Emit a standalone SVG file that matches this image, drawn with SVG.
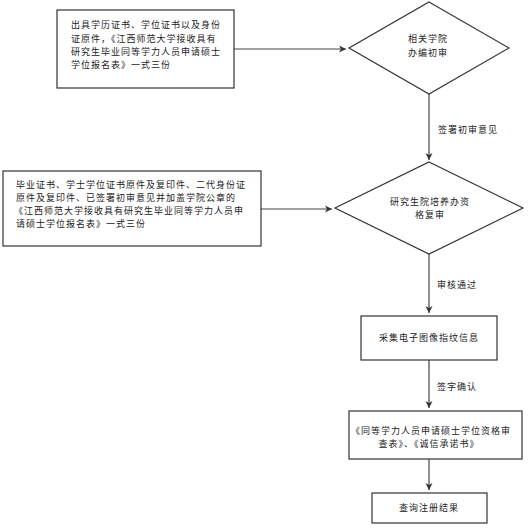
<svg xmlns="http://www.w3.org/2000/svg" width="528" height="530" viewBox="0 0 528 530">
<defs>
<marker id="ah" markerWidth="8" markerHeight="8" refX="7" refY="4" orient="auto" markerUnits="userSpaceOnUse">
<path d="M0,0.5 L7,4 L0,7.5 L2,4 Z" fill="#333"/>
</marker>
</defs>
<style>
.box{fill:#fff;stroke:#333;stroke-width:1.2}
.t{font-family:"Noto Sans CJK SC","Noto Sans",sans-serif;font-size:9px;letter-spacing:1px;fill:#222}
.c{text-anchor:middle}
.ln{stroke:#444;stroke-width:1.2;fill:none}
</style>
<rect width="528" height="530" fill="#fff"/>
<g id="connectors">
<path class="ln" d="M234,49 H346" marker-end="url(#ah)"/>
<path class="ln" d="M429,94 V160" marker-end="url(#ah)"/>
<text class="t" x="438" y="133">签署初审意见</text>
<path class="ln" d="M261,209 H332" marker-end="url(#ah)"/>
<path class="ln" d="M429,254 V313" marker-end="url(#ah)"/>
<text class="t" x="437" y="288">审核通过</text>
<path class="ln" d="M429,360 V408" marker-end="url(#ah)"/>
<text class="t" x="437" y="390">签字确认</text>
<path class="ln" d="M429,459 V490" marker-end="url(#ah)"/>
</g>
<g id="box1">
<rect class="box" x="57" y="10" width="177" height="78"/>
<text class="t" x="71" y="28">出具学历证书、学位证书以及身份</text>
<text class="t" x="71" y="42">证原件，《江西师范大学接收具有</text>
<text class="t" x="71" y="55">研究生毕业同等学力人员申请硕士</text>
<text class="t" x="71" y="68">学位报名表》一式三份</text>
</g>
<g id="diamond1">
<polygon class="box" points="429,2 509,48 429,94 349,48"/>
<text class="t c" x="428" y="42">相关学院</text>
<text class="t c" x="428" y="56">办编初审</text>
</g>
<g id="box2">
<rect class="box" x="3" y="171" width="258" height="75"/>
<text class="t" x="16" y="188">毕业证书、学士学位证书原件及复印件、二代身份证</text>
<text class="t" x="16" y="201">原件及复印件、已签署初审意见并加盖学院公章的</text>
<text class="t" x="14" y="214">《江西师范大学接收具有研究生毕业同等学力人员申</text>
<text class="t" x="16" y="227">请硕士学位报名表》一式三份</text>
</g>
<g id="diamond2">
<polygon class="box" points="429,162 523,208 429,254 335,208"/>
<text class="t c" x="430" y="205">研究生院培养办资</text>
<text class="t c" x="430" y="218">格复审</text>
</g>
<g id="box3">
<rect class="box" x="361" y="316" width="136" height="44"/>
<text class="t c" x="429" y="341">采集电子图像指纹信息</text>
</g>
<g id="box4">
<rect class="box" x="349" y="411" width="173" height="48"/>
<text class="t" x="351" y="434">《同等学力人员申请硕士学位资格审</text>
<text class="t c" x="429" y="447">查表》、《诚信承诺书》</text>
</g>
<g id="box5">
<rect class="box" x="372" y="493" width="115" height="30"/>
<text class="t c" x="429" y="511">查询注册结果</text>
</g>
</svg>
